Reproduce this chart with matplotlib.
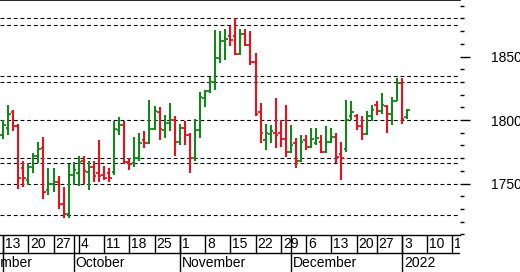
import matplotlib
matplotlib.use("Agg")
import matplotlib.pyplot as plt
from matplotlib.ticker import MultipleLocator, FixedLocator
import pandas as pd
import numpy as np

# ---- data ----
start_date = "2021-09-13"
end_date = "2022-01-04"
holidays = ["2021-12-24"]

opens = [1788, 1794, 1806, 1795, 1762, 1753, 1763, 1772, 1778, 1745,
         1750, 1751, 1734, 1726, 1757, 1758, 1768, 1759, 1763, 1758,
         1757, 1758, 1759, 1792, 1796, 1767, 1766, 1770, 1784, 1782,
         1793, 1806, 1792, 1798, 1800, 1783, 1794, 1788, 1770, 1792,
         1817, 1823, 1830, 1849, 1862, 1866, 1866, 1852, 1868, 1859,
         1846, 1806, 1784, 1789, 1790, 1790, 1785, 1775, 1782, 1768,
         1784, 1779, 1782, 1783, 1775, 1783, 1787, 1773, 1777, 1803,
         1803, 1795, 1789, 1803, 1812, 1807, 1811, 1805, 1815, 1829,
         1802]
highs = [1800, 1812, 1808, 1797, 1768, 1766, 1774, 1783, 1787, 1762,
         1762, 1756, 1747, 1765, 1767, 1772, 1772, 1768, 1768, 1784,
         1764, 1762, 1799, 1802, 1799, 1770, 1787, 1790, 1791, 1816,
         1811, 1810, 1804, 1813, 1803, 1797, 1799, 1790, 1801, 1822,
         1824, 1834, 1871, 1870, 1872, 1874, 1880, 1872, 1872, 1870,
         1853, 1813, 1797, 1796, 1817, 1800, 1812, 1796, 1786, 1788,
         1788, 1794, 1794, 1788, 1795, 1794, 1790, 1783, 1816, 1815,
         1805, 1803, 1807, 1812, 1815, 1821, 1812, 1818, 1833, 1833,
         1809]
lows = [1785, 1788, 1791, 1746, 1747, 1749, 1758, 1766, 1738, 1741,
        1743, 1730, 1723, 1723, 1749, 1748, 1750, 1745, 1751, 1751,
        1753, 1751, 1757, 1788, 1765, 1761, 1763, 1768, 1778, 1781,
        1792, 1784, 1786, 1791, 1772, 1780, 1780, 1758, 1768, 1786,
        1810, 1821, 1824, 1845, 1847, 1858, 1851, 1851, 1858, 1843,
        1803, 1782, 1776, 1782, 1778, 1779, 1771, 1774, 1762, 1767,
        1776, 1778, 1780, 1774, 1774, 1782, 1766, 1753, 1775, 1800,
        1792, 1784, 1788, 1799, 1804, 1805, 1790, 1796, 1815, 1797,
        1801]
closes = [1796, 1805, 1795, 1754, 1754, 1763, 1772, 1777, 1743, 1750,
          1751, 1734, 1726, 1757, 1761, 1767, 1760, 1763, 1756, 1756,
          1754, 1754, 1793, 1796, 1767, 1765, 1770, 1782, 1782, 1793,
          1807, 1793, 1798, 1800, 1783, 1794, 1788, 1770, 1792, 1818,
          1823, 1830, 1849, 1862, 1864, 1863, 1852, 1868, 1859, 1846,
          1805, 1790, 1790, 1791, 1788, 1785, 1775, 1780, 1768, 1783,
          1779, 1785, 1786, 1775, 1783, 1787, 1771, 1770, 1800, 1806,
          1795, 1789, 1803, 1808, 1807, 1812, 1805, 1815, 1829, 1801,
          1808]

levels = [1880, 1875, 1834.5, 1830, 1800, 1770, 1766.5, 1750, 1725]
ytick_labels = [1750, 1800, 1850]

# ---- calendar (trading days, incl. future days for axis labels) ----
cal = pd.bdate_range(start_date, "2022-01-21")
cal = cal[~cal.isin(pd.to_datetime(holidays))]
ndata = len(opens)
dates = cal[:ndata]
idx = np.arange(len(cal))

GREEN = "#11881a"
RED = "#e8101a"

W, H = 520, 272
fig = plt.figure(figsize=(W / 100, H / 100), dpi=100)
fontfam = ["Liberation Sans Narrow", "Liberation Sans", "DejaVu Sans"]

ax_right = 460
ax = fig.add_axes([0, 37 / H, ax_right / W, 235 / H])
pxday = 5.05
xmin = -3 / pxday
xmax = xmin + ax_right / pxday
ax.set_xlim(xmin, xmax)
ax.set_ylim(1800 - 115 / 1.27, 1800 + 120 / 1.27)

for lv in levels:
    ax.axhline(lv, color="black", lw=0.8, ls=(0, (3.5, 2.5)), zorder=1)

o = np.array(opens); h = np.array(highs); l = np.array(lows); c = np.array(closes)
x = idx[:ndata]
cols = [GREEN if cc >= oo else RED for oo, cc in zip(o, c)]
ax.vlines(x, l, h, colors=cols, lw=1.5, zorder=3)
ax.hlines(o, x - 0.5, x, colors=cols, lw=1.3, zorder=3)
ax.hlines(c, x, x + 0.5, colors=cols, lw=1.3, zorder=3)

for s in ["left", "right"]:
    ax.spines[s].set_visible(False)
ax.spines["top"].set_linewidth(1.2)
ax.spines["bottom"].set_linewidth(1.0)
ax.set_xticks([])
ax.yaxis.tick_right()
ax.yaxis.set_major_locator(FixedLocator(ytick_labels))
ax.yaxis.set_minor_locator(MultipleLocator(10))
ax.tick_params(axis="y", which="major", length=7, width=1, pad=15,
               labelsize=10, colors="black")
ax.tick_params(axis="y", which="minor", length=3, width=1)
for t in ax.get_yticklabels():
    t.set_family(fontfam)

# ---- lower date axis ----
ax2 = fig.add_axes([0, 0, ax_right / W, 37 / H])
ax2.set_xlim(xmin, xmax)
ax2.set_ylim(0, 37)
ax2.axis("off")
ax2.axhline(19, color="black", lw=1.0)

ser = pd.Series(idx, index=cal)
week_first = ser.groupby(cal.to_period("W")).first()
month_first = ser.groupby(cal.to_period("M")).first()
off = 2 / pxday
for per, i in week_first.items():
    d = cal[i]
    ax2.plot([i, i], [19, 37], color="black", lw=1.0, clip_on=True)
    ax2.text(i + off, 27.5, str(d.day), ha="left", va="center",
             fontsize=10, family=fontfam, clip_on=True)
# month before the first visible day
sep_first = -8
ax2.text(sep_first + off, 9, "September", ha="left", va="center",
         fontsize=10, family=fontfam, clip_on=True)
for per, i in month_first.items():
    d = cal[i]
    ax2.plot([i, i], [0, 37], color="black", lw=1.0)
    name = str(d.year) if d.month == 1 else d.strftime("%B")
    if d.month == 9:
        continue
    ax2.text(i + off, 9, name, ha="left", va="center",
             fontsize=10, family=fontfam, clip_on=True)

fig.savefig("out.png", dpi=100)
